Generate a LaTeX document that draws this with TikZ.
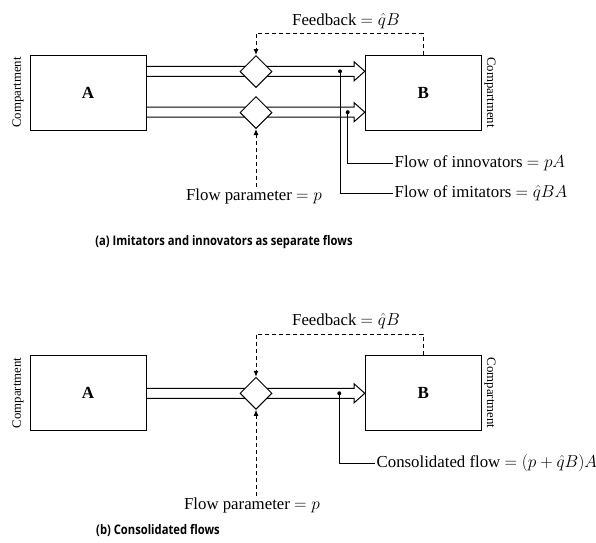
\documentclass[tikz,border=0pt]{standalone}
\usepackage{fontspec}
\setmainfont{Liberation Serif}
\newfontfamily\capfont{Open Sans}[FakeStretch=0.85]
\usetikzlibrary{shapes.geometric,arrows.meta,calc}
\begin{document}
\begin{tikzpicture}[x=1pt,y=-1pt,
  comp/.style={draw,line width=1pt,minimum width=116pt,minimum height=75pt,inner sep=0pt,font=\fontsize{17}{19}\selectfont\bfseries},
  valve/.style={draw,fill=white,line width=1pt,diamond,aspect=1,minimum width=32pt,minimum height=32pt,inner sep=0pt},
  chan/.style={line width=1pt,line join=miter},
  ctl/.style={line width=1pt,dash pattern=on 4pt off 3pt,-{Latex[length=6pt,width=5pt]}},
  lbl/.style={font=\fontsize{16.8}{19}\selectfont,inner sep=1.5pt},
  side/.style={font=\fontsize{12.8}{14}\selectfont,inner sep=0pt},
  captxt/.style={font=\capfont\bfseries\fontsize{13.2}{15}\selectfont,inner sep=0pt},
  dotc/.style={fill=black,circle,inner sep=0pt,minimum size=4pt},
  lead/.style={line width=1pt}]
\useasboundingbox (0,0) rectangle (596,542);
\newcommand\flowchan[3]{% from node #1 to node #2 at center y #3
  \draw[chan] (#1.east |- 0,#3-5) -- ($(#2.west |- 0,#3-5)+(-10.7,0)$) -- ($(#2.west |- 0,#3-9.5)+(-10.7,0)$)
    -- (#2.west |- 0,#3) -- ($(#2.west |- 0,#3+9.5)+(-10.7,0)$) -- ($(#2.west |- 0,#3+5)+(-10.7,0)$) -- (#1.east |- 0,#3+5);}
% ---------- panel (a)
\node[comp] (A1) at (88,92.5) {A};
\node[comp] (B1) at (423.3,92.5) {B};
\node[side,rotate=90] (cA1) at (18,92.5) {Compartment};
\node[side,rotate=-90] (cB1) at (490,92.5) {Compartment};
\flowchan{A1}{B1}{71.3}
\flowchan{A1}{B1}{112.2}
\node[valve] (v1) at (256,71.5) {};
\node[valve] (v2) at (256,112.5) {};
\node[lbl] (fb1) at (346,21) {Feedback $=\hat{q}B$};
\draw[ctl] (B1.north) -- ++(0,-21) -| (v1.north);
\node[lbl] (fp1) at (254,196) {Flow parameter $=p$};
\draw[ctl] (v2.south |- fp1.north) -- (v2.south);
\node[dotc] (p1) at (340,71.3) {};
\node[dotc] (p2) at (347.7,112.2) {};
\node[lbl,anchor=west] (inn) at (393,163) {Flow of innovators $=pA$};
\node[lbl,anchor=west] (imi) at (393,193) {Flow of imitators $=\hat{q}BA$};
\draw[lead] (p2.center) |- (inn.west);
\draw[lead] (p1.center) |- (imi.west);
\node[captxt] (capa) at (224,242) {(a) Imitators and innovators as separate flows};
% ---------- panel (b)
\node[comp] (A2) at (88,393) {A};
\node[comp] (B2) at (423.3,393) {B};
\node[side,rotate=90] (cA2) at (18,393) {Compartment};
\node[side,rotate=-90] (cB2) at (490,393) {Compartment};
\flowchan{A2}{B2}{393.3}
\node[valve] (v3) at (256,393.3) {};
\node[lbl] (fb2) at (346,321) {Feedback $=\hat{q}B$};
\draw[ctl] (B2.north) -- ++(0,-21) -| (v3.north);
\node[lbl] (fp2) at (252,505) {Flow parameter $=p$};
\draw[ctl] (v3.south |- fp2.north) -- (v3.south);
\node[dotc] (p3) at (339.3,393.3) {};
\node[lbl,anchor=west] (con) at (375,463) {Consolidated flow $=(p+\hat{q}B)A$};
\draw[lead] (p3.center) |- (con.west);
\node[captxt,anchor=west] (capb) at (96,530) {(b) Consolidated flows};
\end{tikzpicture}
\end{document}
